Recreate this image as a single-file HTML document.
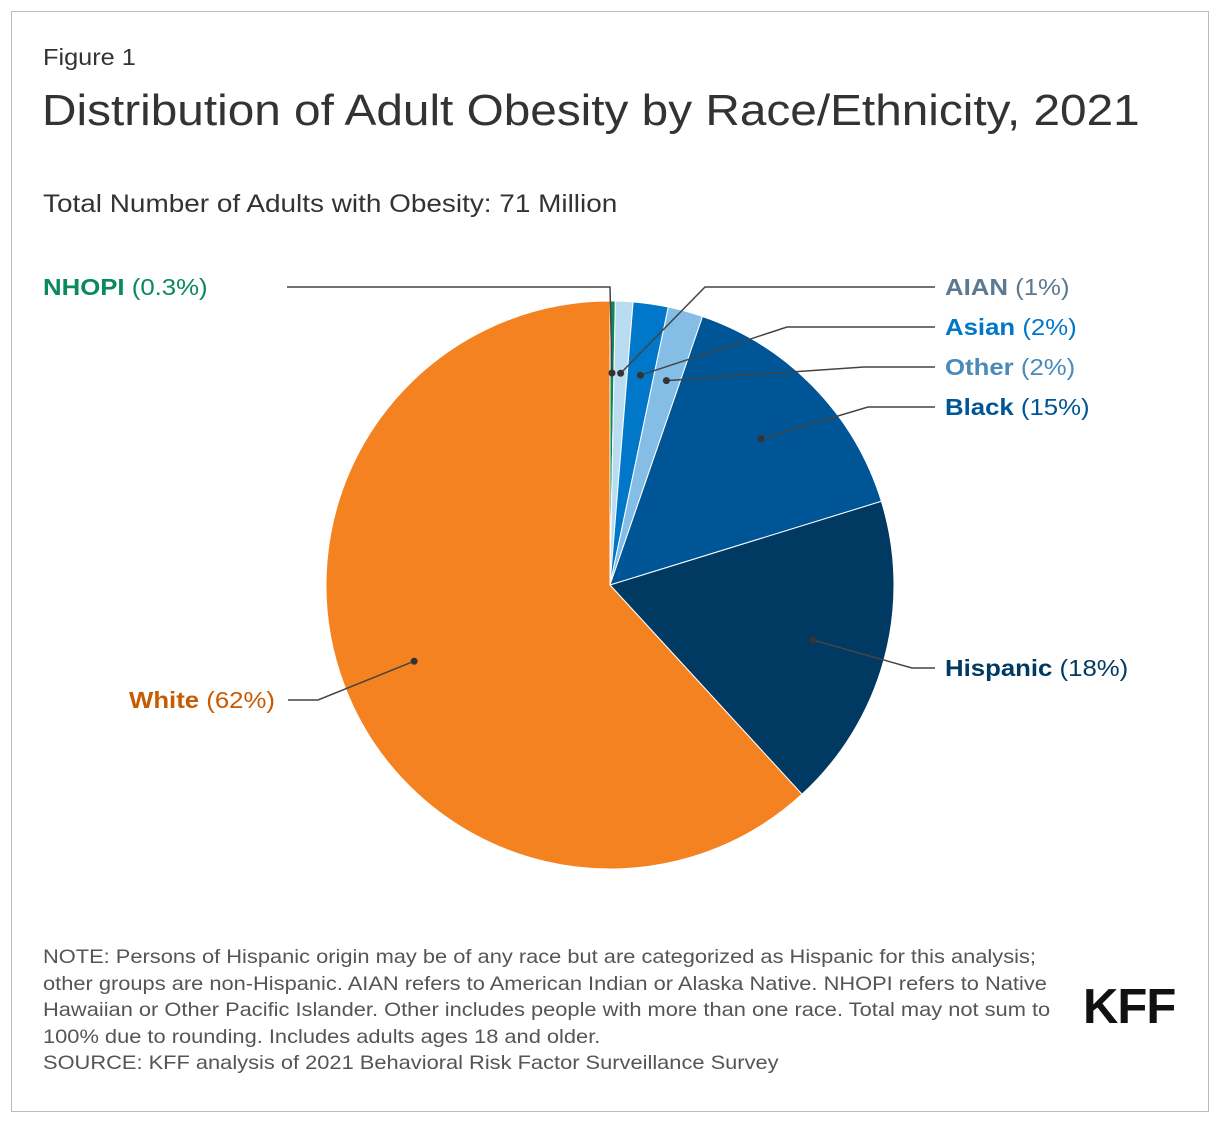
<!DOCTYPE html>
<html><head><meta charset="utf-8"><style>
body{margin:0;background:#fff;font-family:"Liberation Sans",sans-serif;}
#frame{position:absolute;left:11px;top:11px;width:1196px;height:1099px;border:1px solid #bbb;}
.t{position:absolute;color:#333;white-space:nowrap;transform-origin:left top;}
.lab{position:absolute;font-size:23px;white-space:nowrap;transform:scaleX(1.12);transform-origin:left top;}
.lab b{font-weight:bold;}
</style></head><body>
<div id="frame"></div>
<div class="t" style="left:43px;top:44px;font-size:23px;transform:scaleX(1.1)">Figure 1</div>
<div class="t" style="left:42px;top:86px;font-size:44px;transform:scaleX(1.085)">Distribution of Adult Obesity by Race/Ethnicity, 2021</div>
<div class="t" style="left:43px;top:190px;font-size:25px;transform:scaleX(1.117)">Total Number of Adults with Obesity: 71 Million</div>
<svg id="pie" width="1220" height="1124" style="position:absolute;left:0;top:0"></svg>
<div class="lab" style="left:43px;top:274px;color:#0a8a5a"><b>NHOPI</b> (0.3%)</div>
<div class="lab" style="left:945px;top:274px;color:#5b7a91"><b>AIAN</b> (1%)</div>
<div class="lab" style="left:945px;top:314px;color:#0077c8"><b>Asian</b> (2%)</div>
<div class="lab" style="left:945px;top:354px;color:#4a8ab8"><b>Other</b> (2%)</div>
<div class="lab" style="left:945px;top:394px;color:#005596"><b>Black</b> (15%)</div>
<div class="lab" style="left:945px;top:655px;color:#003a63"><b>Hispanic</b> (18%)</div>
<div class="lab" style="left:129px;top:687px;color:#c85a00"><b>White</b> (62%)</div>
<div class="t" style="left:43px;top:944px;font-size:19.5px;line-height:26.5px;color:#555;transform:scaleX(1.12)">NOTE: Persons of Hispanic origin may be of any race but are categorized as Hispanic for this analysis;<br>other groups are non-Hispanic. AIAN refers to American Indian or Alaska Native. NHOPI refers to Native<br>Hawaiian or Other Pacific Islander. Other includes people with more than one race. Total may not sum to<br>100% due to rounding. Includes adults ages 18 and older.<br>SOURCE: KFF analysis of 2021 Behavioral Risk Factor Surveillance Survey</div>
<div class="t" style="left:1083px;top:979px;font-size:49px;font-weight:bold;color:#111;letter-spacing:-1px">KFF</div>
<script>
const categories=["NHOPI","AIAN","Asian","Other","Black","Hispanic","White"];
const values=[0.3,1,2,2,15,18,62];
const colors=["#0a8a5a","#b9dcf0","#0077c8","#84bde6","#005596","#003a63","#f58220"];
const labelAnchors=[[287,287,610,287],[935,287,705,287],[935,327,787,327],[935,367,864,367],[935,407,868,407],[935,668,912,668],[288,700,318,700]];
const svg=document.getElementById('pie');const NS='http://www.w3.org/2000/svg';
const cx=610,cy=585,R=284;const total=values.reduce((a,b)=>a+b,0);
function pt(a,r){return [cx+r*Math.sin(a),cy-r*Math.cos(a)];}
let acc=0;
values.forEach((v,i)=>{
 const a0=acc/total*2*Math.PI;acc+=v;const a1=acc/total*2*Math.PI;
 const p0=pt(a0,R),p1=pt(a1,R);
 const p=document.createElementNS(NS,'path');
 p.setAttribute('d',`M${cx},${cy}L${p0[0]},${p0[1]}A${R},${R} 0 ${a1-a0>Math.PI?1:0} 1 ${p1[0]},${p1[1]}Z`);
 p.setAttribute('fill',colors[i]);p.setAttribute('stroke','#fff');p.setAttribute('stroke-width','1');
 
 
 svg.appendChild(p);
});
acc=0;
values.forEach((v,i)=>{
 const am=(acc+v/2)/total*2*Math.PI;acc+=v;
 const r=i<4?212:R*0.74;
 const d=pt(am,r);const L=labelAnchors[i];
 const pl=document.createElementNS(NS,'polyline');
 pl.setAttribute('points',`${L[0]},${L[1]} ${L[2]},${L[3]} ${d[0]},${d[1]}`);
 pl.setAttribute('fill','none');pl.setAttribute('stroke','#444');pl.setAttribute('stroke-width','1.5');
 
 
 svg.appendChild(pl);
 const c=document.createElementNS(NS,'circle');
 c.setAttribute('cx',d[0]);c.setAttribute('cy',d[1]);c.setAttribute('r','3.5');c.setAttribute('fill','#333');
 
 
 svg.appendChild(c);
});
</script>
</body></html>
